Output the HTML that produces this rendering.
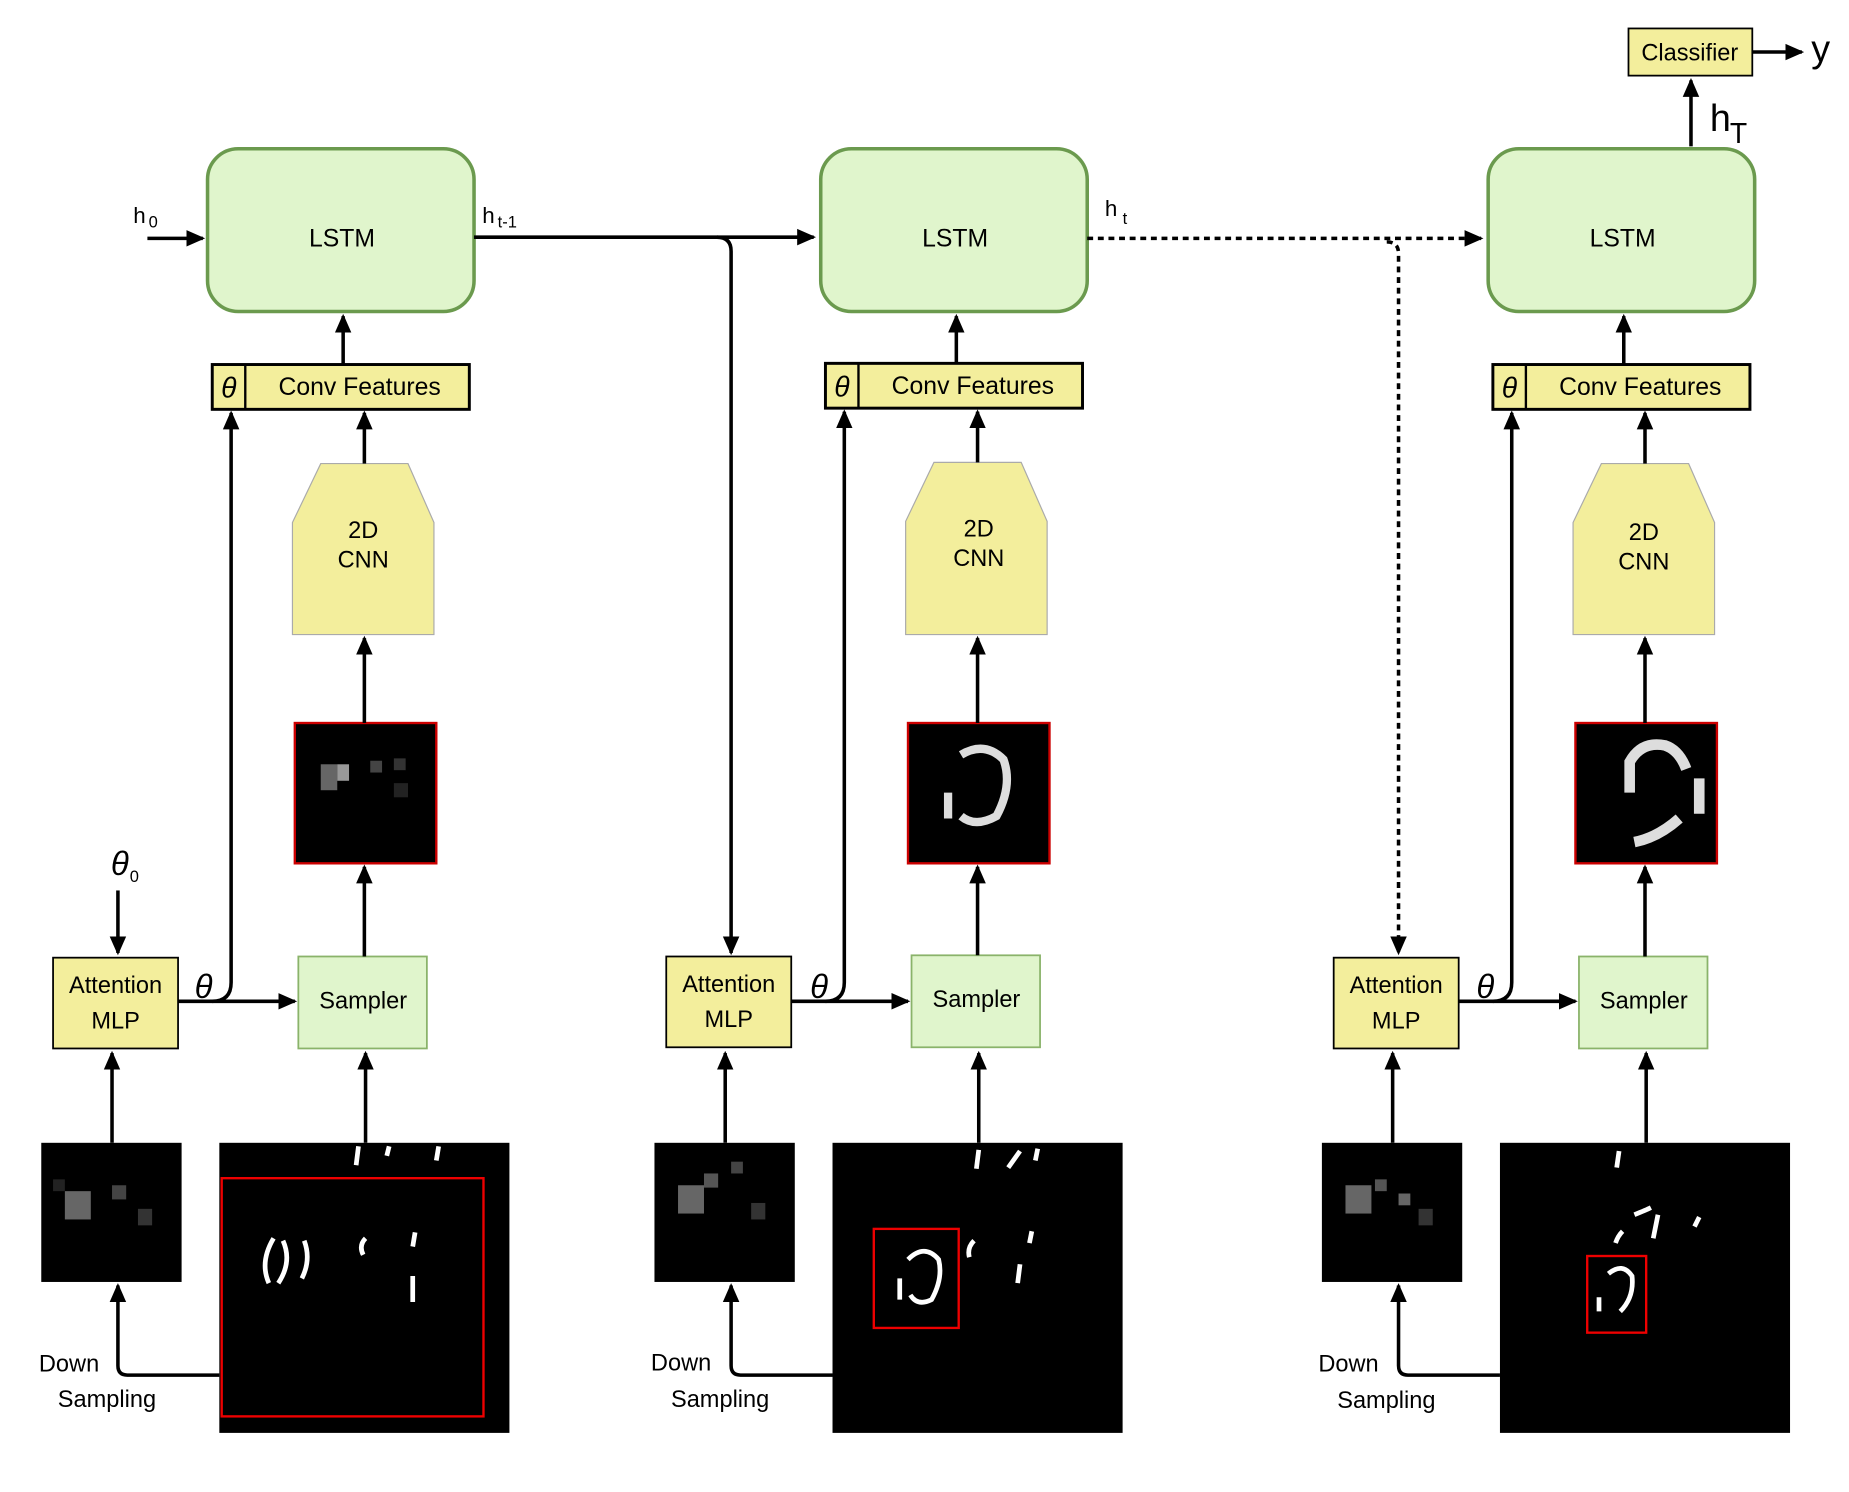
<!DOCTYPE html>
<html><head><meta charset="utf-8"><style>
html,body{margin:0;padding:0;background:#fff;}
svg{display:block;}
text{font-family:"Liberation Sans",sans-serif;fill:#000;}
</style></head><body>
<svg width="1849" height="1492" viewBox="0 0 1568 1265" xmlns="http://www.w3.org/2000/svg">
<defs>
<marker id="a" markerUnits="userSpaceOnUse" markerWidth="16" markerHeight="16" refX="14" refY="8" orient="auto"><path d="M0,1 L16,8 L0,15 z" fill="#000"/></marker>
</defs>
<rect width="1568" height="1265" fill="#fff"/>

<!-- ===== Column 1 ===== -->
<g>
<rect x="176" y="126" width="226" height="138" rx="26" fill="#e0f5cc" stroke="#6b9a4e" stroke-width="3"/>
<text x="290" y="209" font-size="21" text-anchor="middle">LSTM</text>
<rect x="180" y="309" width="218" height="38" fill="#f3ee9c" stroke="#000" stroke-width="2.5"/>
<line x1="208" y1="309" x2="208" y2="347" stroke="#000" stroke-width="2"/>
<text x="194" y="337" font-size="24" font-style="italic" text-anchor="middle" font-family="Liberation Serif">θ</text>
<text x="305" y="335" font-size="21" text-anchor="middle">Conv Features</text>
<path d="M272,393 L346,393 L368,443 L368,538 L248,538 L248,443 Z" fill="#f3ee9c" stroke="#aaa" stroke-width="1"/>
<text x="308" y="456" font-size="20" text-anchor="middle">2D</text>
<text x="308" y="481" font-size="20" text-anchor="middle">CNN</text>
<rect x="250" y="613" width="120" height="119" fill="#000" stroke="#c00" stroke-width="2"/>
<rect x="272" y="648" width="14" height="22" fill="#666"/><rect x="286" y="648" width="10" height="14" fill="#999"/><rect x="314" y="645" width="10" height="10" fill="#444"/><rect x="334" y="643" width="10" height="10" fill="#333"/><rect x="334" y="664" width="12" height="12" fill="#222"/>
<rect x="253" y="811" width="109" height="78" fill="#e0f5cc" stroke="#8ab36a" stroke-width="1.5"/>
<text x="308" y="855" font-size="20" text-anchor="middle">Sampler</text>
<rect x="45" y="812" width="106" height="77" fill="#f3ee9c" stroke="#000" stroke-width="1.5"/>
<text x="98" y="842" font-size="20" text-anchor="middle">Attention</text>
<text x="98" y="872" font-size="20" text-anchor="middle">MLP</text>
<rect x="35" y="969" width="119" height="118" fill="#000"/>
<rect x="55" y="1010" width="22" height="24" fill="#666"/><rect x="95" y="1005" width="12" height="12" fill="#444"/><rect x="117" y="1025" width="12" height="14" fill="#333"/><rect x="45" y="1000" width="10" height="10" fill="#222"/>
<rect x="186" y="969" width="246" height="246" fill="#000"/>
<rect x="188" y="999" width="222" height="202" fill="none" stroke="#e00" stroke-width="2"/>
<path d="M232,1050 q-12,20 -4,38 M240,1052 q8,18 -4,36 M258,1052 q6,16 -2,32 M310,1050 q-6,6 -2,14 M352,1045 l-2,12 M350,1082 l0,22 M304,972 l-2,16 M330,972 l-2,8 M372,972 l-2,12" stroke="#fff" stroke-width="4" fill="none"/>
<text x="113" y="189" font-size="19">h</text><text x="126" y="193" font-size="14">0</text>
<text x="94" y="742" font-size="28" font-style="italic" font-family="Liberation Serif">θ</text><text x="110" y="748" font-size="14">0</text>
<text x="165" y="846" font-size="28" font-style="italic" font-family="Liberation Serif">θ</text>
<text x="33" y="1163" font-size="20">Down</text>
<text x="49" y="1193" font-size="20">Sampling</text>
<g stroke="#000" stroke-width="3" fill="none" marker-end="url(#a)">
<line x1="125" y1="202" x2="172" y2="202"/>
<line x1="291" y1="309" x2="291" y2="268"/>
<line x1="309" y1="393" x2="309" y2="350"/>
<line x1="309" y1="613" x2="309" y2="541"/>
<line x1="309" y1="811" x2="309" y2="735"/>
<line x1="310" y1="969" x2="310" y2="893"/>
<line x1="95" y1="969" x2="95" y2="893"/>
<line x1="100" y1="755" x2="100" y2="808"/>
<line x1="151" y1="849" x2="250" y2="849"/>
<path d="M186,1166 L108,1166 Q100,1166 100,1158 L100,1090"/>
<path d="M180,849 Q196,849 196,833 L196,350"/>
</g>
</g>

<!-- ===== Column 2 ===== -->
<g transform="translate(520,0)">
<rect x="176" y="126" width="226" height="138" rx="26" fill="#e0f5cc" stroke="#6b9a4e" stroke-width="3"/>
<text x="290" y="209" font-size="21" text-anchor="middle">LSTM</text>
<rect x="180" y="308" width="218" height="38" fill="#f3ee9c" stroke="#000" stroke-width="2.5"/>
<line x1="208" y1="308" x2="208" y2="346" stroke="#000" stroke-width="2"/>
<text x="194" y="336" font-size="24" font-style="italic" text-anchor="middle" font-family="Liberation Serif">θ</text>
<text x="305" y="334" font-size="21" text-anchor="middle">Conv Features</text>
<path d="M272,392 L346,392 L368,442 L368,538 L248,538 L248,442 Z" fill="#f3ee9c" stroke="#aaa" stroke-width="1"/>
<text x="310" y="455" font-size="20" text-anchor="middle">2D</text>
<text x="310" y="480" font-size="20" text-anchor="middle">CNN</text>
<rect x="250" y="613" width="120" height="119" fill="#000" stroke="#c00" stroke-width="2"/>
<path d="M295,640 q20,-12 36,4 q8,22 -6,48 q-18,10 -30,0 M284,672 l0,22" stroke="#ddd" stroke-width="7" fill="none"/>
<rect x="253" y="810" width="109" height="78" fill="#e0f5cc" stroke="#8ab36a" stroke-width="1.5"/>
<text x="308" y="854" font-size="20" text-anchor="middle">Sampler</text>
<rect x="45" y="811" width="106" height="77" fill="#f3ee9c" stroke="#000" stroke-width="1.5"/>
<text x="98" y="841" font-size="20" text-anchor="middle">Attention</text>
<text x="98" y="871" font-size="20" text-anchor="middle">MLP</text>
<rect x="35" y="969" width="119" height="118" fill="#000"/>
<rect x="55" y="1005" width="22" height="24" fill="#666"/><rect x="77" y="995" width="12" height="12" fill="#555"/><rect x="100" y="985" width="10" height="10" fill="#444"/><rect x="117" y="1020" width="12" height="14" fill="#333"/>
<rect x="186" y="969" width="246" height="246" fill="#000"/>
<rect x="221" y="1042" width="72" height="84" fill="none" stroke="#e00" stroke-width="2"/>
<path d="M250,1068 q14,-14 26,0 q4,16 -6,34 q-12,6 -18,-4 M243,1084 l0,18 M306,1052 q-6,6 -4,14 M355,1044 l-2,10 M345,1072 l-2,16 M310,975 l-2,16 M335,990 l10,-14 M360,974 l-2,10" stroke="#fff" stroke-width="4" fill="none"/>
<text x="167" y="846" font-size="28" font-style="italic" font-family="Liberation Serif">θ</text>
<text x="32" y="1162" font-size="20">Down</text>
<text x="49" y="1193" font-size="20">Sampling</text>
<g stroke="#000" stroke-width="3" fill="none" marker-end="url(#a)">
<line x1="291" y1="308" x2="291" y2="268"/>
<line x1="309" y1="392" x2="309" y2="349"/>
<line x1="309" y1="613" x2="309" y2="541"/>
<line x1="309" y1="810" x2="309" y2="735"/>
<line x1="310" y1="969" x2="310" y2="893"/>
<line x1="95" y1="969" x2="95" y2="893"/>
<line x1="151" y1="849" x2="250" y2="849"/>
<path d="M186,1166 L108,1166 Q100,1166 100,1158 L100,1090"/>
<path d="M180,849 Q196,849 196,833 L196,349"/>
</g>
</g>

<!-- ===== Column 3 ===== -->
<g transform="translate(1086,0)">
<rect x="176" y="126" width="226" height="138" rx="26" fill="#e0f5cc" stroke="#6b9a4e" stroke-width="3"/>
<text x="290" y="209" font-size="21" text-anchor="middle">LSTM</text>
<rect x="180" y="309" width="218" height="38" fill="#f3ee9c" stroke="#000" stroke-width="2.5"/>
<line x1="208" y1="309" x2="208" y2="347" stroke="#000" stroke-width="2"/>
<text x="194" y="337" font-size="24" font-style="italic" text-anchor="middle" font-family="Liberation Serif">θ</text>
<text x="305" y="335" font-size="21" text-anchor="middle">Conv Features</text>
<path d="M272,393 L346,393 L368,443 L368,538 L248,538 L248,443 Z" fill="#f3ee9c" stroke="#aaa" stroke-width="1"/>
<text x="308" y="458" font-size="20" text-anchor="middle">2D</text>
<text x="308" y="483" font-size="20" text-anchor="middle">CNN</text>
<rect x="250" y="613" width="120" height="119" fill="#000" stroke="#c00" stroke-width="2"/>
<path d="M296,672 l0,-26 q10,-18 30,-14 q12,4 18,20 M300,714 q20,-4 38,-20 M355,660 l0,30" stroke="#ddd" stroke-width="9" fill="none"/>
<rect x="253" y="811" width="109" height="78" fill="#e0f5cc" stroke="#8ab36a" stroke-width="1.5"/>
<text x="308" y="855" font-size="20" text-anchor="middle">Sampler</text>
<rect x="45" y="812" width="106" height="77" fill="#f3ee9c" stroke="#000" stroke-width="1.5"/>
<text x="98" y="842" font-size="20" text-anchor="middle">Attention</text>
<text x="98" y="872" font-size="20" text-anchor="middle">MLP</text>
<rect x="35" y="969" width="119" height="118" fill="#000"/>
<rect x="55" y="1005" width="22" height="24" fill="#666"/><rect x="80" y="1000" width="10" height="10" fill="#555"/><rect x="100" y="1012" width="10" height="10" fill="#666"/><rect x="117" y="1025" width="12" height="14" fill="#333"/>
<rect x="186" y="969" width="246" height="246" fill="#000"/>
<rect x="260" y="1065" width="50" height="65" fill="none" stroke="#e00" stroke-width="2"/>
<path d="M278,1080 q12,-10 20,2 q2,18 -10,30 M270,1100 l0,12 M290,1044 q-4,4 -6,10 M300,1030 q10,-4 14,-6 M320,1030 l-4,20 M355,1032 l-4,8 M287,976 l-2,14" stroke="#fff" stroke-width="4" fill="none"/>
<text x="166" y="846" font-size="28" font-style="italic" font-family="Liberation Serif">θ</text>
<text x="32" y="1163" font-size="20">Down</text>
<text x="48" y="1194" font-size="20">Sampling</text>
<g stroke="#000" stroke-width="3" fill="none" marker-end="url(#a)">
<line x1="291" y1="309" x2="291" y2="268"/>
<line x1="309" y1="393" x2="309" y2="350"/>
<line x1="309" y1="613" x2="309" y2="541"/>
<line x1="309" y1="811" x2="309" y2="735"/>
<line x1="310" y1="969" x2="310" y2="893"/>
<line x1="95" y1="969" x2="95" y2="893"/>
<line x1="151" y1="849" x2="250" y2="849"/>
<path d="M186,1166 L108,1166 Q100,1166 100,1158 L100,1090"/>
<path d="M180,849 Q196,849 196,833 L196,350"/>
</g>
</g>

<!-- ===== Inter-column connections ===== -->
<text x="409" y="189" font-size="19">h</text><text x="422" y="193" font-size="14">t-1</text>
<text x="937" y="183" font-size="19">h</text><text x="952" y="190" font-size="14">t</text>
<g stroke="#000" stroke-width="3" fill="none">
<path d="M402,201 L690,201" marker-end="url(#a)"/>
<path d="M608,201 Q620,201 620,213 L620,808" marker-end="url(#a)"/>
<path d="M922,202 L1256,202" stroke-dasharray="5,4" marker-end="url(#a)"/>
<path d="M1176,205 Q1186,205 1186,215 L1186,808" stroke-dasharray="5,4" marker-end="url(#a)"/>
<line x1="1434" y1="124" x2="1434" y2="68" marker-end="url(#a)"/>
<line x1="1486" y1="44" x2="1528" y2="44" marker-end="url(#a)"/>
</g>
<rect x="1381" y="24" width="105" height="40" fill="#f3ee9c" stroke="#000" stroke-width="1.5"/>
<text x="1433" y="51" font-size="20" text-anchor="middle">Classifier</text>
<text x="1450" y="111" font-size="32">h</text><text x="1467" y="121" font-size="24">T</text>
<text x="1536" y="52" font-size="32">y</text>
</svg>
</body></html>
